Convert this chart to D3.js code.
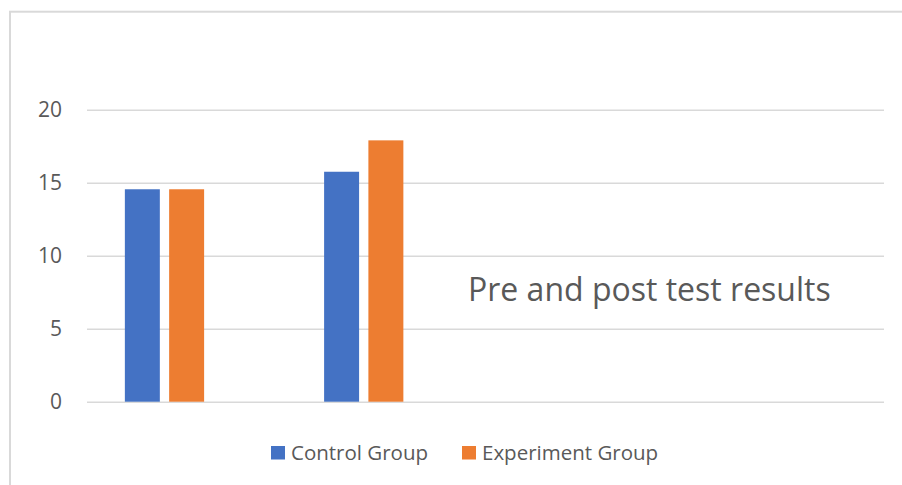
<!DOCTYPE html>
<html>
<head>
<meta charset="utf-8">
<script src="https://cdn.jsdelivr.net/npm/d3@7"></script>
<style>
  html, body { margin: 0; padding: 0; background: #fff; }
  svg { display: block; font-family: "Open Sans", sans-serif; }
  .tick text { fill: #595959; }
</style>
</head>
<body>
<div id="chart-area"></div>
<script>
const width = 902,
  height = 485;

// categories on the x axis (no labels shown in the chart)
const categories = ["Pre test", "Post test", "Cat 3", "Cat 4"];
// series slots: the third slot is an empty series
const seriesNames = ["Control Group", "Experiment Group", ""];
const controlValues = [14.55, 15.75, null, null];
const experimentValues = [14.55, 17.9, null, null];
const emptyValues = [null, null, null, null];
const yTicks = [0, 5, 10, 15, 20];
const colors = ["#4472C4", "#ED7D31", "#A5A5A5"];

const seriesValues = [controlValues, experimentValues, emptyValues];

const plot = { left: 87, right: 884, top: 109.7, bottom: 401.7 };

const x = d3.scaleBand()
  .domain(categories)
  .range([plot.left, plot.right])
  .paddingInner(0.38)
  .paddingOuter(0.19);

const xInner = d3.scaleBand()
  .domain(d3.range(seriesNames.length))
  .range([0, x.bandwidth()])
  .paddingInner(0.21);

const y = d3.scaleLinear()
  .domain([0, 20])
  .range([plot.bottom, plot.top]);

const svg = d3.select("#chart-area").append("svg")
  .attr("width", width)
  .attr("height", height);

// chart border (cropped on right and bottom)
svg.append("rect")
  .attr("x", 10)
  .attr("y", 11.7)
  .attr("width", 1000)
  .attr("height", 1000)
  .attr("fill", "none")
  .attr("stroke", "#D9D9D9")
  .attr("stroke-width", 2);

// gridlines + labels through an axis
const yAxis = d3.axisLeft(y)
  .tickValues(yTicks)
  .tickSize(-(plot.right - plot.left))
  .tickPadding(25);

svg.append("g")
  .attr("transform", `translate(${plot.left},0)`)
  .call(yAxis)
  .call(g => g.select(".domain").remove())
  .call(g => g.selectAll(".tick line").attr("stroke", "#D9D9D9").attr("stroke-width", 1.4))
  .call(g => g.selectAll(".tick text")
    .attr("font-size", 21)
    .attr("font-family", "Open Sans, sans-serif"));

// bars
const groups = svg.append("g")
  .selectAll("g")
  .data(seriesValues)
  .join("g")
  .attr("fill", (d, i) => colors[i]);

groups.selectAll("rect")
  .data((vals, si) => vals.map((v, ci) => ({ v, si, ci })).filter(d => d.v != null))
  .join("rect")
  .attr("x", d => x(categories[d.ci]) + xInner(d.si))
  .attr("width", xInner.bandwidth())
  .attr("y", d => y(d.v))
  .attr("height", d => y(0) - y(d.v));

// title inside the plot
svg.append("text")
  .attr("x", 468)
  .attr("y", 301)
  .attr("font-size", 32)
  .attr("fill", "#595959")
  .text("Pre and post test results");

// legend
const legendItems = [
  { name: seriesNames[0], color: colors[0], x: 271 },
  { name: seriesNames[1], color: colors[1], x: 462 }
];

const legend = svg.append("g")
  .selectAll("g")
  .data(legendItems)
  .join("g")
  .attr("transform", d => `translate(${d.x},446)`);

legend.append("rect")
  .attr("width", 14)
  .attr("height", 13.5)
  .attr("fill", d => d.color);

legend.append("text")
  .attr("x", 20)
  .attr("y", 14)
  .attr("font-size", 20.5)
  .attr("fill", "#595959")
  .text(d => d.name);
</script>
</body>
</html>
